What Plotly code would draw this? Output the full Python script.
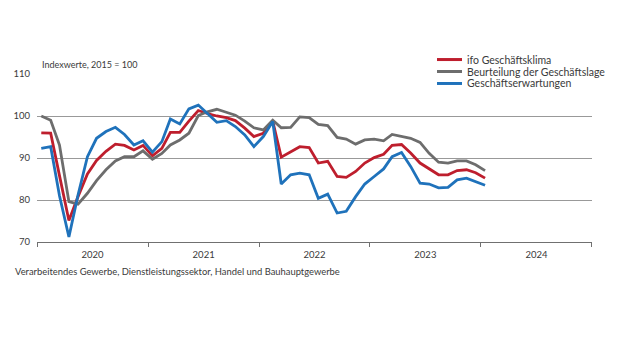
import plotly.graph_objects as go

# ---- data (monthly, Jan 2020 - Jan 2024), index 2015 = 100 ----
months = [f"{y}-{m:02d}-15" for y in range(2020, 2025) for m in range(1, 13)][:49]

klima = [96.0, 95.9, 85.8, 75.1, 80.8, 86.2, 89.4, 91.6, 93.3, 93.0, 91.9, 93.0,
         90.5, 92.3, 96.1, 96.1, 98.8, 101.3, 100.6, 100.0, 99.6, 98.9, 97.1, 95.1,
         95.9, 98.8, 90.2, 91.5, 92.7, 92.5, 88.8, 89.2, 85.6, 85.4, 86.8, 88.8,
         90.1, 90.9, 93.0, 93.2, 91.2, 88.8, 87.5, 86.0, 86.0, 87.0, 87.2, 86.5,
         85.2]

lage = [100.0, 99.0, 93.1, 79.6, 79.0, 81.6, 84.6, 87.2, 89.3, 90.3, 90.3, 91.7,
        89.7, 91.1, 93.1, 94.3, 95.9, 100.1, 101.0, 101.6, 100.9, 100.2, 98.8, 97.2,
        96.7, 99.0, 97.2, 97.3, 99.8, 99.6, 98.0, 97.7, 94.9, 94.5, 93.3, 94.3,
        94.5, 94.1, 95.6, 95.1, 94.7, 93.7, 91.1, 89.0, 88.8, 89.3, 89.3, 88.4,
        87.0]

erwartungen = [92.3, 92.7, 81.0, 71.2, 81.2, 90.3, 94.7, 96.3, 97.3, 95.6, 93.1, 94.1,
               91.4, 93.9, 99.3, 98.1, 101.7, 102.6, 100.6, 98.5, 98.9, 97.5, 95.5, 92.7,
               95.1, 98.7, 83.8, 86.0, 86.4, 86.0, 80.4, 81.4, 76.9, 77.3, 80.8, 83.8,
               85.6, 87.4, 90.3, 91.3, 88.0, 84.0, 83.8, 82.9, 83.0, 84.8, 85.2, 84.3,
               83.5]

series_names = ["ifo Geschäftsklima", "Beurteilung der Geschäftslage", "Geschäftserwartungen"]
series_values = [klima, lage, erwartungen]
series_colors = ["#be1e2d", "#6d6d6d", "#1f72bb"]

y_ticks = [70, 80, 90, 100, 110]
title_text = "Indexwerte, 2015 = 100"
footer_text = "Verarbeitendes Gewerbe, Dienstleistungssektor, Handel und Bauhauptgewerbe"

FONT = "Lato"
TXT = "#3a3a3a"

fig = go.Figure()
for name, vals, col in zip(series_names, series_values, series_colors):
    fig.add_trace(go.Scatter(x=months, y=vals, mode="lines", name=name,
                             line=dict(color=col, width=2.8), showlegend=False))

# plot area in pixels: left 37, right 592, top 74, bottom 242.5
L, R, T, B = 37, 592, 74, 242.5
W, H = R - L, B - T
def px(x): return (x - L) / W
def py(y): return (B - y) / H

shapes = [dict(type="rect", xref="paper", yref="paper", x0=px(430), x1=px(600),
               y0=py(90), y1=py(52), fillcolor="white", line=dict(width=0), layer="above")]
annotations = []
rows = [59.5, 71.5, 83.5]
for name, col, ry in zip(series_names, series_colors, rows):
    shapes.append(dict(type="line", xref="paper", yref="paper", x0=px(437), x1=px(462),
                       y0=py(ry), y1=py(ry), line=dict(color=col, width=3), layer="above"))
    annotations.append(dict(text=name, xref="paper", yref="paper", x=px(465), y=py(ry),
                            xanchor="left", yanchor="middle", showarrow=False,
                            font=dict(family=FONT, size=10.5, color=TXT)))

annotations.append(dict(text=title_text, xref="paper", yref="paper", x=px(40), y=py(64),
                        xanchor="left", yanchor="middle", showarrow=False,
                        font=dict(family=FONT, size=9, color=TXT)))
annotations.append(dict(text=footer_text, xref="paper", yref="paper", x=px(13), y=py(272),
                        xanchor="left", yanchor="middle", showarrow=False,
                        font=dict(family=FONT, size=9.4, color=TXT)))

fig.update_layout(
    width=620, height=350,
    margin=dict(l=L, r=620 - R, t=T, b=350 - B),
    paper_bgcolor="white", plot_bgcolor="white",
    font=dict(family=FONT, size=10, color=TXT),
    shapes=shapes, annotations=annotations,
    showlegend=False,
)
fig.update_xaxes(
    type="date", range=["2019-12-31 23:00", "2025-01-01 01:00"],
    tick0="2020-01-01", dtick="M12", tickformat="%Y", ticklabelmode="period",
    ticks="outside", ticklen=4, tickcolor="#707070", showgrid=False,
    showline=True, linecolor="#707070", linewidth=1,
    tickfont=dict(family=FONT, size=9.5, color=TXT), fixedrange=True,
)
fig.update_yaxes(
    range=[70, 110], tickvals=y_ticks, showgrid=True, gridcolor="#999999", gridwidth=1,
    zeroline=False, showline=False, ticks="", ticklabelstandoff=6,
    tickfont=dict(family=FONT, size=9.5, color=TXT), fixedrange=True,
)

fig.write_html("out.html")
